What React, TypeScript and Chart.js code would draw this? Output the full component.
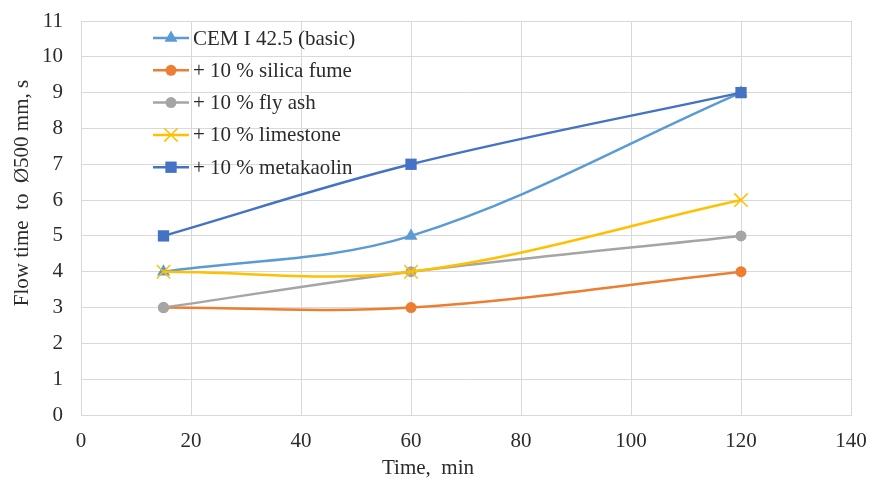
import React, { useEffect, useRef } from "react";
import { Chart, registerables } from "chart.js";

Chart.register(...registerables);

const times = [15, 60, 120];
const seriesNames = [
  "CEM I 42.5 (basic)",
  "+ 10 % silica fume",
  "+ 10 % fly ash",
  "+ 10 % limestone",
  "+ 10 % metakaolin",
];
const cem = [4, 5, 9];
const silicaFume = [3, 3, 4];
const flyAsh = [3, 4, 5];
const limestone = [4, 4, 6];
const metakaolin = [5, 7, 9];
const xTicks = [0, 20, 40, 60, 80, 100, 120, 140];
const yTicks = [0, 1, 2, 3, 4, 5, 6, 7, 8, 9, 10, 11];
const xTitle = "Time,  min";
const yTitle = "Flow time  to  Ø500 mm, s";

const colors = ["#5B9BD5", "#ED7D31", "#A5A5A5", "#FFC000", "#4472C4"];
const styles = ["triangle", "circle", "circle", "crossRot", "rect"];
const radii = [7.5, 5.5, 5.5, 9.5, 8];
const FONT = "'Liberation Serif', 'Times New Roman', serif";
const TEXT = "#2b2b2b";

function drawMarker(ctx: CanvasRenderingContext2D, style: string, x: number, y: number, r: number, color: string) {
  ctx.save();
  ctx.fillStyle = color;
  ctx.strokeStyle = color;
  ctx.lineWidth = 1.5;
  ctx.beginPath();
  if (style === "circle") {
    ctx.arc(x, y, r, 0, Math.PI * 2);
    ctx.fill();
  } else if (style === "rect") {
    const s = r * Math.SQRT1_2;
    ctx.fillRect(x - s, y - s, 2 * s, 2 * s);
  } else if (style === "triangle") {
    ctx.moveTo(x, y - r);
    ctx.lineTo(x + r * Math.sin(Math.PI / 3), y + r * 0.5);
    ctx.lineTo(x - r * Math.sin(Math.PI / 3), y + r * 0.5);
    ctx.closePath();
    ctx.fill();
  } else if (style === "crossRot") {
    const o = r * Math.SQRT1_2;
    ctx.moveTo(x - o, y - o);
    ctx.lineTo(x + o, y + o);
    ctx.moveTo(x - o, y + o);
    ctx.lineTo(x + o, y - o);
    ctx.stroke();
  }
  ctx.restore();
}

const legendPlugin = {
  id: "customLegend",
  afterDraw(chart: any) {
    const { ctx, chartArea } = chart;
    const x0 = chartArea.left + 72;
    const y0 = chartArea.top + 17;
    const step = 32.3;
    ctx.save();
    seriesNames.forEach((name, i) => {
      const y = y0 + i * step;
      ctx.strokeStyle = colors[i];
      ctx.lineWidth = 2.5;
      ctx.beginPath();
      ctx.moveTo(x0, y);
      ctx.lineTo(x0 + 36, y);
      ctx.stroke();
      drawMarker(ctx, styles[i], x0 + 18, y, radii[i], colors[i]);
      ctx.fillStyle = TEXT;
      ctx.font = `21px ${FONT}`;
      ctx.textBaseline = "middle";
      ctx.textAlign = "left";
      ctx.fillText(name, x0 + 40, y + 1);
    });
    // axis titles
    ctx.fillStyle = TEXT;
    ctx.font = `21px ${FONT}`;
    ctx.textAlign = "center";
    ctx.textBaseline = "middle";
    const cx = (chartArea.left + chartArea.right) / 2 - 38;
    ctx.fillText(xTitle, cx, chart.height - 11);
    const cy = (chartArea.top + chartArea.bottom) / 2 - 25;
    ctx.translate(22, cy);
    ctx.rotate(-Math.PI / 2);
    ctx.fillText(yTitle, 0, 0);
    ctx.restore();
  },
};

export default function App() {
  const ref = useRef<HTMLCanvasElement>(null);
  useEffect(() => {
    document.body.style.margin = "0";
    const values = [cem, silicaFume, flyAsh, limestone, metakaolin];
    const chart = new Chart(ref.current!, {
      type: "line",
      data: {
        datasets: values.map((vals, i) => ({
          label: seriesNames[i],
          data: times.map((t, j) => ({ x: t, y: vals[j] })),
          borderColor: colors[i],
          backgroundColor: colors[i],
          borderWidth: 2.5,
          pointStyle: styles[i] as any,
          pointRadius: radii[i],
          pointBorderWidth: i === 3 ? 1.5 : 0,
          pointBorderColor: colors[i],
          tension: 0.35,
          fill: false,
          order: 5 - i,
        })),
      },
      options: {
        responsive: false,
        animation: false,
        layout: { autoPadding: false, padding: { left: 0, right: 31, top: 21, bottom: 0 } },
        plugins: { legend: { display: false }, tooltip: { enabled: false } },
        scales: {
          x: {
            type: "linear",
            min: 0,
            max: 140,
            afterBuildTicks: (s: any) => {
              s.ticks = xTicks.map((v) => ({ value: v }));
            },
            afterFit: (s: any) => {
              s.height = 64;
              s.paddingLeft = 0;
              s.paddingRight = 0;
            },
            grid: { color: "#D9D9D9", lineWidth: 1, drawTicks: false },
            border: { color: "#D9D9D9" },
            ticks: { padding: 14, color: TEXT, font: { family: FONT, size: 21 } },
          },
          y: {
            min: 0,
            max: 11,
            afterBuildTicks: (s: any) => {
              s.ticks = yTicks.map((v) => ({ value: v }));
            },
            afterFit: (s: any) => {
              s.width = 81;
              s.paddingTop = 0;
              s.paddingBottom = 0;
            },
            grid: { color: "#D9D9D9", lineWidth: 1, drawTicks: false },
            border: { color: "#D9D9D9" },
            ticks: { padding: 18, color: TEXT, font: { family: FONT, size: 21 } },
          },
        },
      },
      plugins: [legendPlugin],
    });
    return () => chart.destroy();
  }, []);
  return (
    <div style={{ width: 882, height: 479 }}>
      <canvas ref={ref} width={882} height={479} />
    </div>
  );
}
